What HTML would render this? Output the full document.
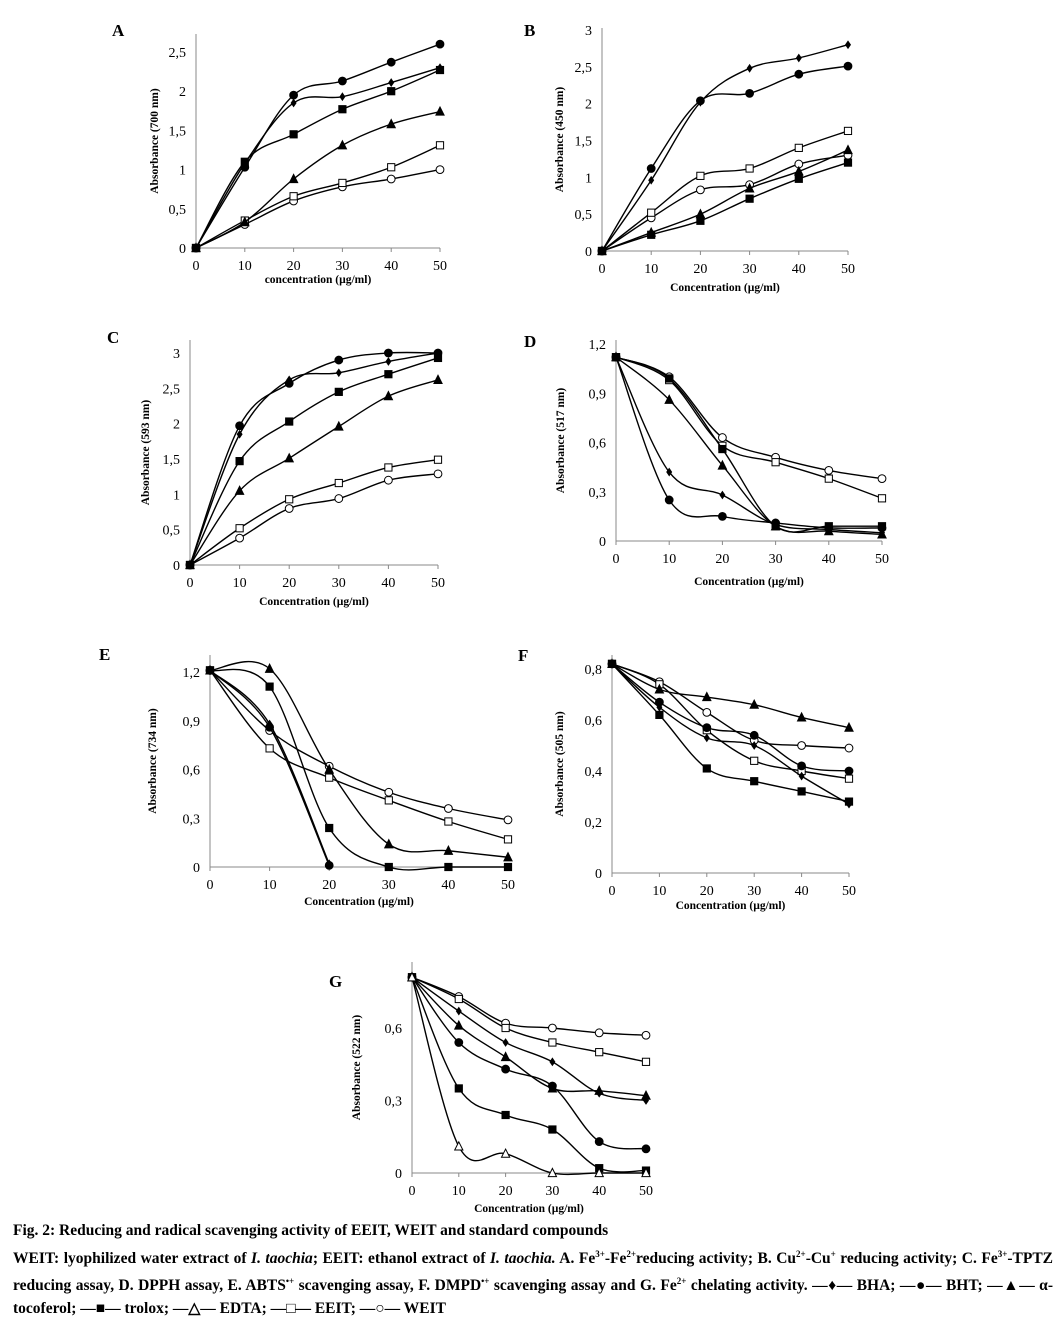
<!DOCTYPE html>
<html><head><meta charset="utf-8">
<style>
body{margin:0;background:#fff;width:1064px;height:1316px;overflow:hidden;font-family:"Liberation Serif",serif}
#fig{position:absolute;left:0;top:0}
#cap{position:absolute;left:13px;top:1220px;width:1040px;font-weight:bold;font-size:15.5px;line-height:22.5px;color:#000;text-align:justify}
#cap p{margin:0}
</style></head><body>
<svg id="fig" width="1064" height="1220" xmlns="http://www.w3.org/2000/svg"></svg>
<div id="cap">
<p>Fig. 2: Reducing and radical scavenging activity of EEIT, WEIT and standard compounds</p>
<p>WEIT: lyophilized water extract of <i>I. taochia</i>; EEIT: ethanol extract of <i>I. taochia.</i> A. Fe<sup style="font-size:9px">3+</sup>-Fe<sup style="font-size:9px">2+</sup>reducing activity; B. Cu<sup style="font-size:9px">2+</sup>-Cu<sup style="font-size:9px">+</sup> reducing activity; C. Fe<sup style="font-size:9px">3+</sup>-TPTZ reducing assay, D. DPPH assay, E. ABTS<sup style="font-size:9px">•+</sup> scavenging assay, F. DMPD<sup style="font-size:9px">•+</sup> scavenging assay and G. Fe<sup style="font-size:9px">2+</sup> chelating activity. —♦— BHA; —●— BHT; —▲— α-tocoferol; —■— trolox; —△— EDTA; —□— EEIT; —○— WEIT</p>
</div>
<script>
const conc=[0,10,20,30,40,50];
// Panel A
const aBHA=[0,1.08,1.85,1.93,2.11,2.30], aBHT=[0,1.03,1.95,2.13,2.37,2.60], aToco=[0,0.33,0.88,1.31,1.58,1.74], aTrolox=[0,1.10,1.45,1.77,2.00,2.27], aEEIT=[0,0.35,0.66,0.83,1.03,1.31], aWEIT=[0,0.30,0.60,0.78,0.88,1.00];
const aTicks=["0","0,5","1","1,5","2","2,5"];
// Panel B
const bBHA=[0,0.96,2.02,2.48,2.62,2.80], bBHT=[0,1.12,2.04,2.14,2.40,2.51], bToco=[0,0.25,0.50,0.85,1.08,1.37], bTrolox=[0,0.22,0.41,0.71,0.98,1.20], bEEIT=[0,0.52,1.02,1.12,1.40,1.63], bWEIT=[0,0.45,0.83,0.90,1.18,1.30];
const bTicks=["0","0,5","1","1,5","2","2,5","3"];
// Panel C
const cBHA=[0,1.85,2.62,2.72,2.88,3.0], cBHT=[0,1.97,2.57,2.90,3.0,3.0], cToco=[0,1.05,1.51,1.96,2.39,2.62], cTrolox=[0,1.47,2.03,2.45,2.70,2.93], cEEIT=[0,0.52,0.93,1.16,1.38,1.49], cWEIT=[0,0.38,0.80,0.94,1.20,1.29];
const cTicks=["0","0,5","1","1,5","2","2,5","3"];
// Panel D
const dBHA=[1.12,0.42,0.28,0.10,0.07,0.05], dBHT=[1.12,0.25,0.15,0.11,0.08,0.08], dToco=[1.12,0.86,0.46,0.09,0.06,0.04], dTrolox=[1.12,0.99,0.56,0.09,0.09,0.09], dEEIT=[1.12,0.98,0.58,0.48,0.38,0.26], dWEIT=[1.12,1.00,0.63,0.51,0.43,0.38];
const dTicks=["0","0,3","0,6","0,9","1,2"];
// Panel E
const eBHA=[1.21,0.88,0.02], eBHT=[1.21,0.86,0.01], eToco=[1.21,1.22,0.60,0.14,0.10,0.06], eTrolox=[1.21,1.11,0.24,0,0,0], eEEIT=[1.21,0.73,0.55,0.41,0.28,0.17], eWEIT=[1.21,0.84,0.62,0.46,0.36,0.29];
const eTicks=["0","0,3","0,6","0,9","1,2"];
// Panel F
const fBHA=[0.82,0.65,0.53,0.50,0.38,0.27], fBHT=[0.82,0.67,0.57,0.54,0.42,0.40], fToco=[0.82,0.72,0.69,0.66,0.61,0.57], fTrolox=[0.82,0.62,0.41,0.36,0.32,0.28], fEEIT=[0.82,0.74,0.56,0.44,0.40,0.37], fWEIT=[0.82,0.75,0.63,0.52,0.50,0.49];
const fTicks=["0","0,2","0,4","0,6","0,8"];
// Panel G
const gBHA=[0.81,0.67,0.54,0.46,0.33,0.30], gBHT=[0.81,0.54,0.43,0.36,0.13,0.10], gToco=[0.81,0.61,0.48,0.35,0.34,0.32], gTrolox=[0.81,0.35,0.24,0.18,0.02,0.01], gEDTA=[0.81,0.11,0.08,0,0,0], gEEIT=[0.81,0.72,0.60,0.54,0.50,0.46], gWEIT=[0.81,0.73,0.62,0.60,0.58,0.57];
const gTicks=["0","0,3","0,6"];
const xTicks=["0","10","20","30","40","50"];

const NS="http://www.w3.org/2000/svg", svg=document.getElementById('fig');
function mk(t,a,p){const e=document.createElementNS(NS,t);for(const k in a)e.setAttribute(k,a[k]);(p||svg).appendChild(e);return e;}
const panels=[
 {id:'a',L:'A',lx:112,ly:36,x0:196,x1:440,y0:248,yv:2.5,yp:52,top:34,tstep:0.5,ticks:aTicks,xt:'concentration (µg/ml)',xty:283,yt:'Absorbance (700 nm)',ytx:158,series:[['wdiam',aWEIT],['sq',aEEIT],['tri',aToco],['fsq',aTrolox],['diam',aBHA],['dot',aBHT]].map((s,i)=>s)},
 {id:'b',L:'B',lx:524,ly:36,x0:602,x1:848,y0:251,yv:3,yp:30,top:28,tstep:0.5,ticks:bTicks,xt:'Concentration (µg/ml)',xty:291,yt:'Absorbance (450 nm)',ytx:563,series:[['circ',bWEIT],['sq',bEEIT],['tri',bToco],['fsq',bTrolox],['diam',bBHA],['dot',bBHT]]},
 {id:'c',L:'C',lx:107,ly:343,x0:190,x1:438,y0:565,yv:3,yp:353,top:340,tstep:0.5,ticks:cTicks,xt:'Concentration (µg/ml)',xty:605,yt:'Absorbance (593 nm)',ytx:149,series:[['circ',cWEIT],['sq',cEEIT],['tri',cToco],['fsq',cTrolox],['diam',cBHA],['dot',cBHT]]},
 {id:'d',L:'D',lx:524,ly:347,x0:616,x1:882,y0:541,yv:1.2,yp:344,top:340,tstep:0.3,ticks:dTicks,xt:'Concentration (µg/ml)',xty:585,yt:'Absorbance (517 nm)',ytx:564,series:[['circ',dWEIT],['sq',dEEIT],['tri',dToco],['fsq',dTrolox],['diam',dBHA],['dot',dBHT]]},
 {id:'e',L:'E',lx:99,ly:660,x0:210,x1:508,y0:867,yv:1.2,yp:672,top:655,tstep:0.3,ticks:eTicks,xt:'Concentration  (µg/ml)',xty:905,yt:'Absorbance  (734 nm)',ytx:156,series:[['circ',eWEIT],['sq',eEEIT],['tri',eToco],['fsq',eTrolox],['diam',eBHA],['dot',eBHT]]},
 {id:'f',L:'F',lx:518,ly:661,x0:612,x1:849,y0:873,yv:0.8,yp:669,top:655,tstep:0.2,ticks:fTicks,xt:'Concentration  (µg/ml)',xty:909,yt:'Absorbance (505 nm)',ytx:563,series:[['circ',fWEIT],['sq',fEEIT],['tri',fToco],['fsq',fTrolox],['diam',fBHA],['dot',fBHT]]},
 {id:'g',L:'G',lx:329,ly:987,x0:412,x1:646,y0:1173,yv:0.6,yp:1028,top:962,tstep:0.3,ticks:gTicks,xt:'Concentration  (µg/ml)',xty:1212,yt:'Absorbance (522 nm)',ytx:360,series:[['circ',gWEIT],['sq',gEEIT],['tri',gToco],['fsq',gTrolox],['diam',gBHA],['dot',gBHT],['otri',gEDTA]]}
];
panels.forEach(p=>{if(p.series[0][0]==='wdiam')p.series[0][0]='circ';});
function spline(pts){let d='M'+pts[0][0]+','+pts[0][1];for(let i=0;i<pts.length-1;i++){const p0=pts[i-1]||pts[i],p1=pts[i],p2=pts[i+1],p3=pts[i+2]||p2;const t=0.17;d+=' C'+(p1[0]+(p2[0]-p0[0])*t)+','+(p1[1]+(p2[1]-p0[1])*t)+' '+(p2[0]-(p3[0]-p1[0])*t)+','+(p2[1]-(p3[1]-p1[1])*t)+' '+p2[0]+','+p2[1];}return d;}
function marker(g,type,x,y){const r=3.6;let e;
 if(type==='dot'||type==='circ')e=mk('circle',{cx:x,cy:y,r:r+0.3,fill:type==='dot'?'#000':'#fff',stroke:'#000','stroke-width':1},g);
 else if(type==='sq'||type==='fsq')e=mk('rect',{x:x-r,y:y-r,width:2*r,height:2*r,fill:type==='fsq'?'#000':'#fff',stroke:'#000','stroke-width':1},g);
 else if(type==='tri'||type==='otri')e=mk('polygon',{points:`${x},${y-r-1} ${x+r+0.5},${y+r} ${x-r-0.5},${y+r}`,fill:type==='tri'?'#000':'#fff',stroke:'#000','stroke-width':1},g);
 else e=mk('polygon',{points:`${x},${y-r-0.8} ${x+r-0.6},${y} ${x},${y+r+0.8} ${x-r+0.6},${y}`,fill:'#000'},g);
 
 }
panels.forEach(p=>{
 const g=mk('g',{});  
 const sx=v=>p.x0+(p.x1-p.x0)*v/50, sy=v=>p.y0-(p.y0-p.yp)*v/p.yv;
 const lab=mk('text',{x:p.lx,y:p.ly,'font-size':17,'font-weight':'bold'},g);lab.textContent=p.L;
 
 const ax=mk('path',{d:`M${p.x0},${p.top} V${p.y0} H${p.x1}`,fill:'none',stroke:'#888','stroke-width':1},g);
 
 p.ticks.forEach((t,i)=>{const y=sy(i*p.tstep);const tx=mk('text',{x:p.x0-10,y:y+5,'font-size':14,'text-anchor':'end'},g);tx.textContent=t;
  });
 xTicks.forEach((t,i)=>{const x=sx(conc[i]);mk('line',{x1:x,x2:x,y1:p.y0,y2:p.y0+4,stroke:'#888'},g);const tx=mk('text',{x:x,y:p.y0+22,'font-size':14,'text-anchor':'middle'},g);tx.textContent=t;
  });
 const xt=mk('text',{x:(p.x0+p.x1)/2,y:p.xty,'font-size':11.5,'font-weight':'bold','text-anchor':'middle'},g);xt.textContent=p.xt;
 
 const cy=(p.top+p.y0)/2;
 const yt=mk('text',{x:p.ytx,y:cy,'font-size':11.5,'font-weight':'bold','text-anchor':'middle',transform:`rotate(-90 ${p.ytx} ${cy})`},g);yt.textContent=p.yt;
 
 p.series.forEach(([type,vals])=>{
  const pts=vals.map((v,i)=>[sx(conc[i]),sy(v)]);
  const ln=mk('path',{d:spline(pts),fill:'none',stroke:'#000','stroke-width':1.4},g);
  
  pts.forEach(q=>marker(g,type,q[0],q[1]));
 });
});
</script>
</body></html>
